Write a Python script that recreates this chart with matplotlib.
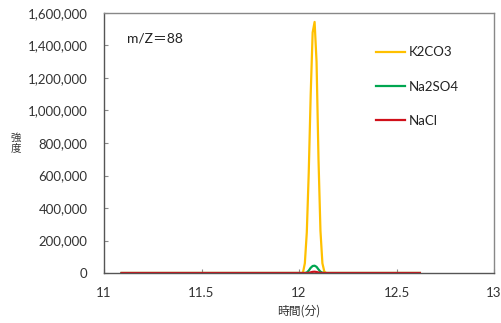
import matplotlib.pyplot as plt
from matplotlib.ticker import FuncFormatter

# =========================
# DATA
# =========================

TIME = [11.09, 12.00, 12.02, 12.03, 12.04, 12.05, 12.06, 12.07, 12.08,
        12.09, 12.10, 12.11, 12.12, 12.13, 12.14, 12.16, 12.62]

K2CO3 = [0, 0, 0, 60000, 250000, 620000, 1100000, 1480000, 1545000,
         1300000, 700000, 260000, 60000, 8000, 0, 0, 0]

NA2SO4 = [0, 0, 0, 0, 3000, 15000, 32000, 43000, 45000,
          38000, 22000, 8000, 2000, 0, 0, 0, 0]

NACL = [0, 0, 0, 0, 0, 1000, 4000, 7000, 8000,
        6000, 3000, 1000, 0, 0, 0, 0, 0]

SERIES = ["K2CO3", "Na2SO4", "NaCl"]
COLORS = ["#FFC000", "#00A650", "#D0101A"]

X_TICKS = [11, 11.5, 12, 12.5, 13]
Y_TICKS = list(range(0, 1600001, 200000))

LATIN = "Lato"
JP = "Noto Sans CJK JP"


def main():
    fig = plt.figure(figsize=(5.01, 3.23), dpi=100)
    ax = fig.add_axes([104 / 501, 50 / 323, 390 / 501, 260 / 323])

    for name, vals, color in zip(SERIES, [K2CO3, NA2SO4, NACL], COLORS):
        ax.plot(TIME, vals, color=color, linewidth=1.6, label=name)

    ax.set_xlim(11, 13)
    ax.set_ylim(0, 1600000)
    ax.set_xticks(X_TICKS)
    ax.set_yticks(Y_TICKS)
    ax.xaxis.set_major_formatter(FuncFormatter(lambda v, p: f"{v:g}"))
    ax.yaxis.set_major_formatter(FuncFormatter(lambda v, p: f"{int(v):,}"))

    ax.tick_params(axis="both", direction="in", length=3, color="#888888",
                   labelsize=9.5, labelcolor="#333333")
    ax.tick_params(axis="y", pad=12)
    ax.tick_params(axis="x", pad=10)
    for lab in ax.get_xticklabels() + ax.get_yticklabels():
        lab.set_family(LATIN)

    for side, spine in ax.spines.items():
        spine.set_linewidth(1.0)
        spine.set_color("#555555" if side in ("left", "bottom") else "#888888")

    ax.set_xlabel("時間(分)", family=[JP, "DejaVu Sans"], fontsize=8.5,
                  color="#333333", labelpad=4)
    fig.text(0.032, 0.557, "強\n度", family=[JP, "DejaVu Sans"], fontsize=7.5,
             color="#333333", ha="center", va="center", linespacing=1.0)

    ax.text(0.06, 0.885, "m/Z＝88", transform=ax.transAxes,
            family=[LATIN, JP], fontsize=10, color="#222222")

    leg = ax.legend(loc="upper left", bbox_to_anchor=(0.667, 0.918),
                    frameon=False, handlelength=2.2, handletextpad=0.3,
                    labelspacing=1.7, prop={"family": LATIN, "size": 9.5})
    for t in leg.get_texts():
        t.set_color("#222222")

    fig.savefig("out.png", dpi=100, facecolor="white")


if __name__ == "__main__":
    main()
